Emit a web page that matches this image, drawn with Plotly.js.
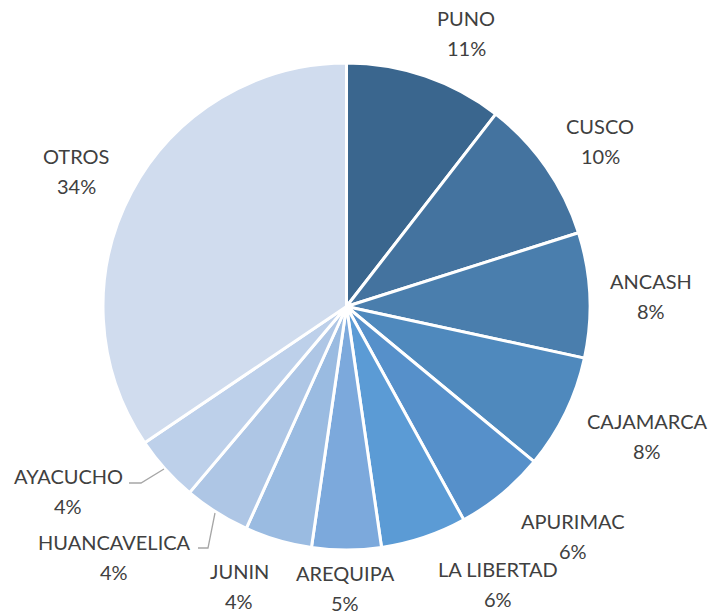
<!DOCTYPE html>
<html>
<head>
<meta charset="utf-8">
<script src="https://cdn.plot.ly/plotly-3.0.1.min.js"></script>
<style>
  html, body { margin: 0; padding: 0; background: #fff; }
  #chart { width: 713px; height: 614px; }
</style>
</head>
<body>
<div id="chart"></div>
<script>
// Share by region
const regions = ['PUNO', 'CUSCO', 'ANCASH', 'CAJAMARCA', 'APURIMAC', 'LA LIBERTAD',
  'AREQUIPA', 'JUNIN', 'HUANCAVELICA', 'AYACUCHO', 'OTROS'];
const shares = [10.5, 9.6, 8.3, 7.6, 6.0, 5.7, 4.6, 4.45, 4.4, 4.4, 34.45];
const sliceColors = ['#3a668e', '#44739f', '#4a7ead', '#4f89bd', '#5690ca', '#5b9bd5',
  '#7ca9dc', '#9abbe1', '#aec6e5', '#bdd0ea', '#d0dcee'];

// label anchor (pixel centre of the name line) for each region
const labelPos = [
  [466, 18], [600, 126], [651, 281], [647, 421], [573, 521], [498, 569],
  [345, 573], [239, 571], [114, 542], [68, 476], [76, 156]
];

const W = 713, H = 614;
const cx = 346.5, cy = 306.5, r = 243.5;
const px = x => x / W;
const py = y => 1 - y / H;

const data = [{
  type: 'pie',
  labels: regions,
  values: shares,
  sort: false,
  direction: 'clockwise',
  rotation: 0,
  textinfo: 'none',
  hoverinfo: 'label+percent',
  marker: { colors: sliceColors, line: { color: '#ffffff', width: 3 } },
  domain: { x: [px(cx - r), px(cx + r)], y: [py(cy + r), py(cy - r)] },
  showlegend: false
}];

const font = { family: 'Lato, "Open Sans", sans-serif', size: 20, color: '#404040' };
const annotations = [];
regions.forEach((name, i) => {
  const [lx, ly] = labelPos[i];
  annotations.push({ text: name, x: px(lx), y: py(ly), xref: 'paper', yref: 'paper',
    showarrow: false, font: font, xanchor: 'center', yanchor: 'middle' });
  annotations.push({ text: Math.round(shares[i]) + '%', x: px(lx), y: py(ly + 30),
    xref: 'paper', yref: 'paper', showarrow: false, font: font,
    xanchor: 'center', yanchor: 'middle' });
});

// leader lines for the two small labels on the left
const leader = pts => ({
  type: 'path', xref: 'paper', yref: 'paper',
  path: 'M' + pts.map(p => px(p[0]) + ',' + py(p[1])).join(' L'),
  line: { color: '#a6a6a6', width: 1.3 }
});

const layout = {
  width: W, height: H,
  margin: { l: 0, r: 0, t: 0, b: 0 },
  paper_bgcolor: '#ffffff',
  annotations: annotations,
  shapes: [
    leader([[129, 483], [141, 483], [164, 469]]),
    leader([[198, 548], [208, 548], [215, 513]])
  ]
};

Plotly.newPlot('chart', data, layout, { displayModeBar: false });
</script>
</body>
</html>
